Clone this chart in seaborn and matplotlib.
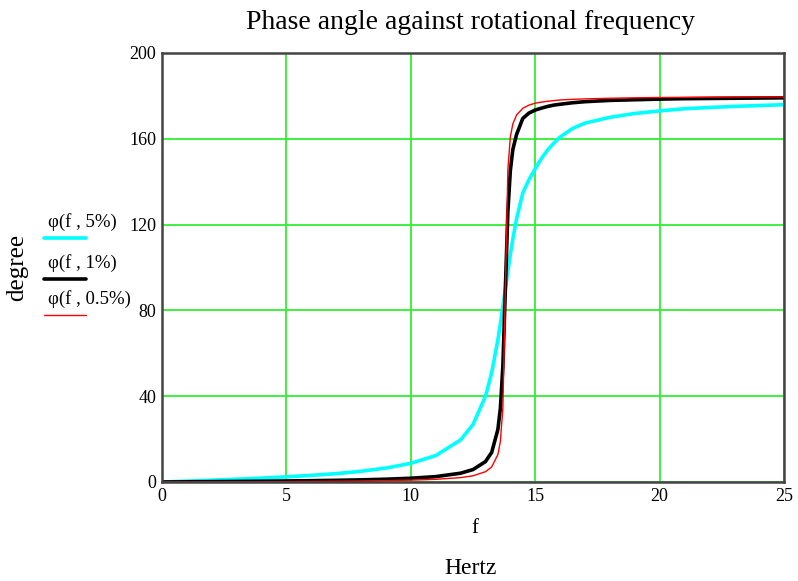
import numpy as np
import pandas as pd
import matplotlib
matplotlib.use("Agg")
import matplotlib.pyplot as plt
import seaborn as sns

# Frequency samples (Hz)
freq = [0, 1, 2, 3, 4, 5, 6, 7, 8, 9, 10, 11, 12, 12.5, 13, 13.25, 13.5, 13.6,
        13.7, 13.8, 13.9, 14, 14.1, 14.25, 14.5, 14.75, 15, 15.25, 15.5,
        15.75, 16, 16.5, 17, 18, 19, 20, 21, 22, 23, 24, 25]

# Phase angle (degree) for three damping ratios
phi_5 = [0, 0.42, 0.85, 1.3, 1.8, 2.4, 3.1, 3.9, 5.0, 6.5, 8.7, 12.3, 19.6,
         26.8, 39.9, 50.9, 66.3, 73.7, 81.8, 90, 98.3, 106.1, 113.3, 122.7,
         134.7, 141.0, 146.0, 150.8, 154.8, 158.0, 160.8, 164.8, 167.3,
         170.0, 171.8, 173.0, 174.0, 174.6, 175.1, 175.5, 175.9]
phi_1 = [0, 0.08, 0.17, 0.26, 0.36, 0.48, 0.61, 0.78, 1.0, 1.3, 1.75, 2.5,
         4.1, 5.8, 9.5, 13.8, 24.5, 34.4, 54.0, 90, 125.9, 145.2, 155.0, 162.0,
         169.5, 172.0, 173.4, 174.3, 175.1, 175.7, 176.1, 176.8, 177.3, 177.9,
         178.2, 178.5, 178.7, 178.8, 178.9, 179.0, 179.1]
phi_05 = [0, 0.04, 0.09, 0.13, 0.18, 0.24, 0.31, 0.39, 0.5, 0.65, 0.87, 1.25,
          2.04, 2.9, 4.8, 7.0, 12.8, 18.9, 34.6, 90, 145.4, 160.9, 166.9,
          171.1, 174.2, 175.7, 176.6, 177.1, 177.5, 177.8, 178.1, 178.4,
          178.6, 178.9, 179.1, 179.25, 179.3, 179.4, 179.5, 179.5, 179.5]

labels = ["\u03c6(f , 5%)", "\u03c6(f , 1%)", "\u03c6(f , 0.5%)"]
colors = ["#00ffff", "#000000", "#ff0000"]
widths = [2.6, 2.6, 1.0]

sns.set_style("white")
plt.rcParams["font.family"] = ["Liberation Serif", "DejaVu Serif"]
plt.rcParams["text.color"] = "black"
plt.rcParams["xtick.color"] = "black"
plt.rcParams["ytick.color"] = "black"

df = pd.concat([
    pd.DataFrame({"f": freq, "phi": vals, "series": lab})
    for vals, lab in zip([phi_5, phi_1, phi_05], labels)
])

fig = plt.figure(figsize=(7.98, 5.81), dpi=100)
ax = fig.add_axes([0.203, 0.1704, 0.7795, 0.7384])

for lab, col, lw in zip(labels, colors, widths):
    sns.lineplot(data=df[df["series"] == lab], x="f", y="phi", ax=ax,
                 color=col, linewidth=lw, legend=False)

ax.set_xlim(0, 25)
ax.set_ylim(0, 200)
ax.set_xticks([0, 5, 10, 15, 20, 25])
ax.set_yticks([0, 40, 80, 120, 160, 200])
ax.grid(True, color="#33ee33", linewidth=1.3)
ax.set_axisbelow(True)
ax.tick_params(length=0, labelsize=13, pad=4, labelcolor="black")
for s in ax.spines.values():
    s.set_color("#444444")
    s.set_linewidth(1.8)
ax.set_xlabel("")
ax.set_ylabel("")

fig.text(0.590, 0.962, "Phase angle against rotational frequency",
         ha="center", va="center", fontsize=20)
fig.text(0.595, 0.090, "f", ha="center", va="center", fontsize=15)
fig.text(0.590, 0.022, "Hertz", ha="center", va="center", fontsize=17)
fig.text(0.021, 0.540, "degree", ha="center", va="center", rotation=90,
         fontsize=18)

# Stacked legend entries on the left
leg_y = [0.618, 0.548, 0.486]
for lab, col, lw, ty in zip(labels, colors, widths, leg_y):
    fig.text(0.060, ty, lab, ha="left", va="center", fontsize=13.5)
    fig.add_artist(plt.Line2D([0.055, 0.108], [ty - 0.028, ty - 0.028],
                              color=col, linewidth=lw,
                              transform=fig.transFigure))

fig.savefig("out.png", dpi=100)
